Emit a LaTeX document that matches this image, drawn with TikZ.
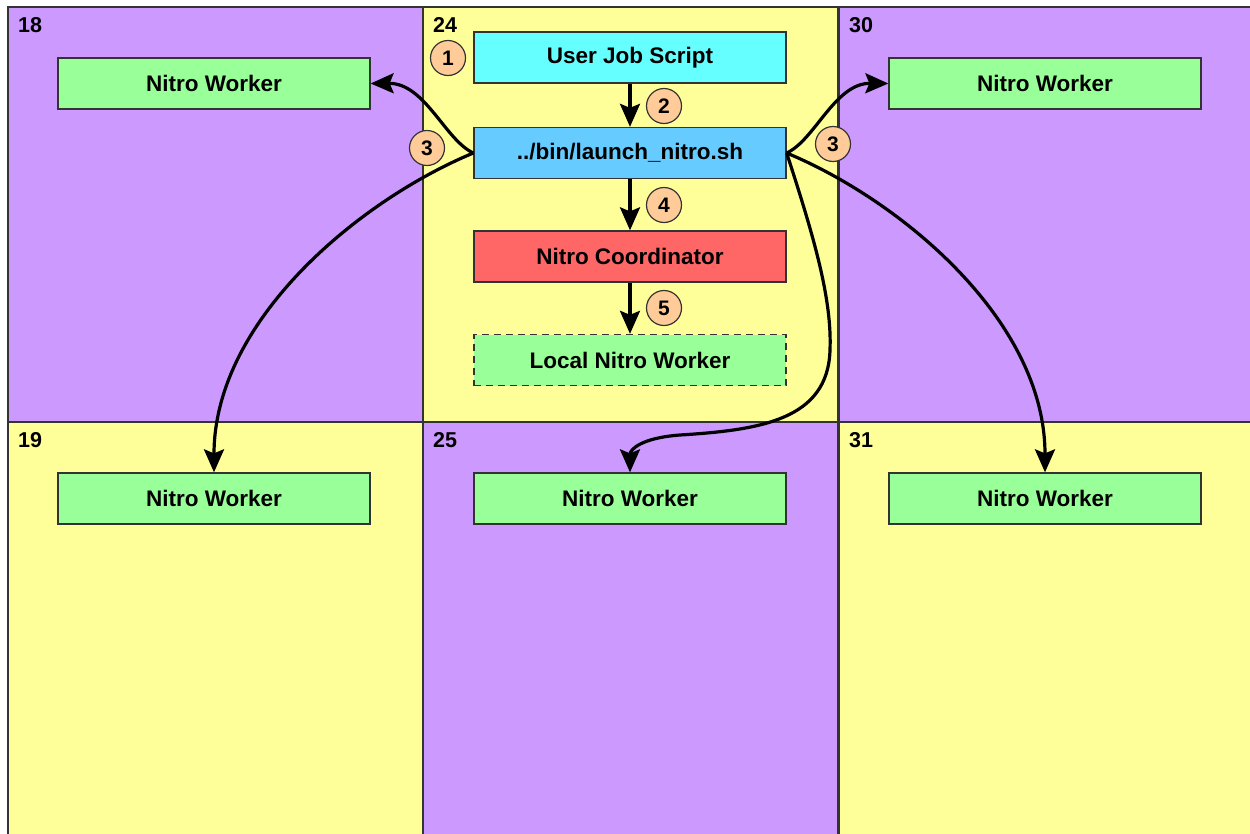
\documentclass[tikz,border=0pt]{standalone}
\usepackage{fontspec}
\setmainfont{Liberation Sans}
\usetikzlibrary{arrows.meta}
\definecolor{cellpurple}{HTML}{CC99FF}
\definecolor{cellyellow}{HTML}{FFFF99}
\definecolor{boxgreen}{HTML}{99FF99}
\definecolor{boxcyan}{HTML}{66FFFF}
\definecolor{boxblue}{HTML}{66CCFF}
\definecolor{boxred}{HTML}{FF6666}
\definecolor{badgeorange}{HTML}{FFCC99}
\definecolor{edge}{HTML}{333333}
\begin{document}
\begin{tikzpicture}[x=1pt,y=-1pt,
  cell/.style={draw=edge, line width=1.5pt, minimum width=415pt, minimum height=415pt, anchor=north west, inner sep=0pt},
  box/.style={draw=edge, line width=1.3pt, minimum width=312pt, minimum height=51pt, inner sep=0pt, font=\fontsize{22.5}{26}\selectfont\bfseries},
  num/.style={anchor=base west, inner sep=0pt, font=\fontsize{21.5}{24}\selectfont\bfseries},
  badge/.style={circle, draw=edge, fill=badgeorange, line width=1.2pt, minimum size=35pt, inner sep=0pt, font=\fontsize{21}{24}\selectfont\bfseries},
  flow/.style={line width=3.2pt, line join=round, -{Stealth[length=23pt,width=20pt,inset=4pt]}}
]
\useasboundingbox (0,0) rectangle (1250,833);
\fill[white] (0,0) rectangle (1250,833);
\clip (0,0) rectangle (1250,833);
% cells
\node[cell, fill=cellpurple] (c18) at (7,6) {};
\node[cell, fill=cellyellow] (c24) at (422,6) {};
\node[cell, fill=cellpurple] (c30) at (838,6) {};
\node[cell, fill=cellyellow] (c19) at (7,421) {};
\node[cell, fill=cellpurple] (c25) at (422,421) {};
\node[cell, fill=cellyellow] (c31) at (838,421) {};
% cell numbers
\node[num] (n18) at (18,32) {18};
\node[num] (n24) at (433,32) {24};
\node[num] (n30) at (849,32) {30};
\node[num] (n19) at (18,447) {19};
\node[num] (n25) at (433,447) {25};
\node[num] (n31) at (849,447) {31};
% boxes
\node[box, fill=boxcyan] (ujs) at (630,57.5) {User Job Script};
\node[box, fill=boxblue] (launch) at (630,153) {../bin/launch\_nitro.sh};
\node[box, fill=boxred] (coord) at (630,256.5) {Nitro Coordinator};
\node[box, fill=boxgreen, dash pattern=on 7pt off 5pt] (local) at (630,360) {Local Nitro Worker};
\node[box, fill=boxgreen] (nw18) at (214,83.5) {Nitro Worker};
\node[box, fill=boxgreen] (nw30) at (1045,83.5) {Nitro Worker};
\node[box, fill=boxgreen] (nw19) at (214,498.5) {Nitro Worker};
\node[box, fill=boxgreen] (nw25) at (630,498.5) {Nitro Worker};
\node[box, fill=boxgreen] (nw31) at (1045,498.5) {Nitro Worker};
% badges
\node[badge] (b1) at (448,58) {1};
\node[badge] (b2) at (664,106) {2};
\node[badge] (b3l) at (427,148) {3};
\node[badge] (b3r) at (833,144) {3};
\node[badge] (b4) at (664,205) {4};
\node[badge] (b5) at (664,308) {5};
% connectors
\draw[flow] (ujs.south) -- (launch.north);
\draw[flow] (launch.south) -- (coord.north);
\draw[flow] (coord.south) -- (local.north);
\draw[flow] (launch.west) .. controls (445,140) and (425,83) .. (nw18.east);
\draw[flow] (launch.west) .. controls (360,200) and (214,320) .. (nw19.north);
\draw[flow] (launch.east) .. controls (815,140) and (835,83) .. (nw30.west);
\draw[flow] (launch.east) .. controls (900,200) and (1045,320) .. (nw31.north);
\coordinate (bendA) at (830,350);
\coordinate (bendB) at (680,435);
\draw[flow] (launch.east) .. controls (815,240) and (832,300) .. (bendA)
  .. controls (828,420) and (760,430) .. (bendB)
  .. controls (640,438) and (630,450) .. (nw25.north);
\end{tikzpicture}
\end{document}
